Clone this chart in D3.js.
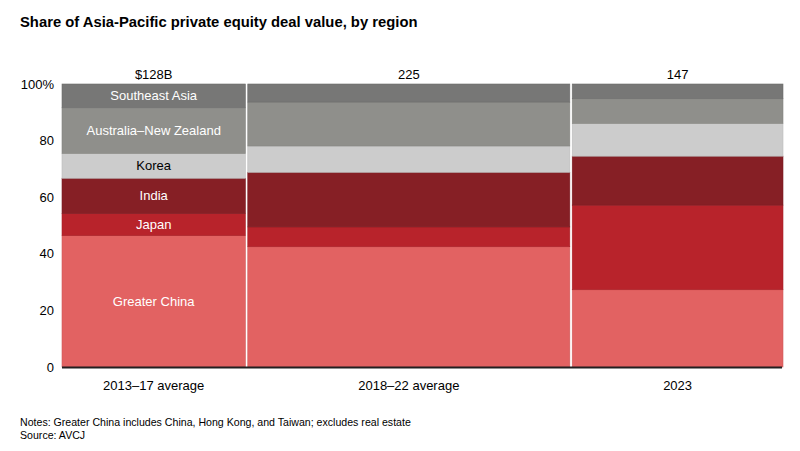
<!DOCTYPE html>
<html>
<head>
<meta charset="utf-8">
<script src="https://cdn.jsdelivr.net/npm/d3@7"></script>
<style>
  body { margin: 0; background: #fff; }
  svg { font-family: "Liberation Sans", Arial, sans-serif; }
</style>
</head>
<body>
<svg id="chart" width="800" height="451"></svg>
<script>
// columns: period label, total deal value ($B), label above bar
const periods = ["2013–17 average", "2018–22 average", "2023"];
const totals = [128, 225, 147];
const totalLabels = ["$128B", "225", "147"];

// regions bottom to top
const regions = ["Greater China", "Japan", "India", "Korea", "Australia–New Zealand", "Southeast Asia"];
const regionColors = ["#e26262", "#b8232b", "#861f25", "#cccccc", "#8f8f8b", "#777776"];
const regionTextColors = ["#fff", "#fff", "#fff", "#000", "#fff", "#fff"];

// share (%) per region, one array per period, same order as regions
const share2013 = [46.4, 7.9, 12.4, 8.8, 16.1, 8.4];
const share2018 = [42.5, 7.0, 19.3, 9.3, 15.5, 6.4];
const share2023 = [27.3, 29.9, 17.3, 11.6, 8.7, 5.2];
const shares = [share2013, share2018, share2023];

const yTicks = [0, 20, 40, 60, 80, 100];

const svg = d3.select("svg#chart");

const x = d3.scaleLinear().domain([0, d3.sum(totals)]).range([62, 783]);
const y = d3.scaleLinear().domain([0, 100]).range([367, 84]);

// title
svg.append("text")
  .attr("x", 20)
  .attr("y", 27)
  .attr("font-size", 14.8)
  .attr("font-weight", "bold")
  .attr("fill", "#000")
  .text("Share of Asia-Pacific private equity deal value, by region");

const plot = svg.append("g");

let cum = 0;
periods.forEach((p, i) => {
  const x0 = x(cum) + (i > 0 ? 1.2 : 0);
  const x1 = x(cum + totals[i]) - (i < periods.length - 1 ? 1.2 : 0);
  cum += totals[i];

  const stack = [];
  let base = 0;
  shares[i].forEach((v, j) => {
    stack.push({ region: regions[j], j: j, y0: base, y1: base + v });
    base += v;
  });

  const col = plot.append("g").attr("class", "column");

  col.selectAll("rect")
    .data(stack)
    .join("rect")
    .attr("x", x0)
    .attr("width", x1 - x0)
    .attr("y", (d) => y(d.y1))
    .attr("height", (d) => y(d.y0) - y(d.y1))
    .attr("fill", (d) => regionColors[d.j])
    .attr("stroke", (d) => d3.color(regionColors[d.j]).darker(0.25))
    .attr("stroke-width", 0.6);

  // only the first column carries the region names
  if (i === 0) {
    col.selectAll("text.seg")
      .data(stack)
      .join("text")
      .attr("class", "seg")
      .attr("x", (x0 + x1) / 2)
      .attr("y", (d) => (y(d.y0) + y(d.y1)) / 2)
      .attr("dy", "0.35em")
      .attr("text-anchor", "middle")
      .attr("font-size", 13)
      .attr("fill", (d) => regionTextColors[d.j])
      .text((d) => d.region);
  }

  // total above column
  svg.append("text")
    .attr("x", (x0 + x1) / 2)
    .attr("y", 74)
    .attr("dy", "0.35em")
    .attr("text-anchor", "middle")
    .attr("font-size", 13)
    .attr("fill", "#000")
    .text(totalLabels[i]);

  // period label
  svg.append("text")
    .attr("x", (x0 + x1) / 2)
    .attr("y", 385)
    .attr("dy", "0.35em")
    .attr("text-anchor", "middle")
    .attr("font-size", 13)
    .attr("fill", "#000")
    .text(p);
});

// baseline
svg.append("line")
  .attr("x1", x.range()[0])
  .attr("x2", x.range()[1] - 1)
  .attr("y1", y(0) + 0.5)
  .attr("y2", y(0) + 0.5)
  .attr("stroke", "#231f20")
  .attr("stroke-width", 2);

// y axis labels
const yAxis = svg.append("g")
  .attr("transform", "translate(54,0)")
  .call(d3.axisLeft(y).tickValues(yTicks).tickSize(0).tickPadding(0)
    .tickFormat((d) => (d === 100 ? "100%" : d)));
yAxis.select(".domain").remove();
yAxis.selectAll("text")
  .attr("font-family", "Liberation Sans, Arial, sans-serif")
  .attr("font-size", 13)
  .attr("fill", "#000");

// notes
svg.append("text")
  .attr("x", 20)
  .attr("y", 426)
  .attr("font-size", 10.6)
  .attr("fill", "#000")
  .text("Notes: Greater China includes China, Hong Kong, and Taiwan; excludes real estate");
svg.append("text")
  .attr("x", 20)
  .attr("y", 439)
  .attr("font-size", 10.6)
  .attr("fill", "#000")
  .text("Source: AVCJ");
</script>
</body>
</html>
